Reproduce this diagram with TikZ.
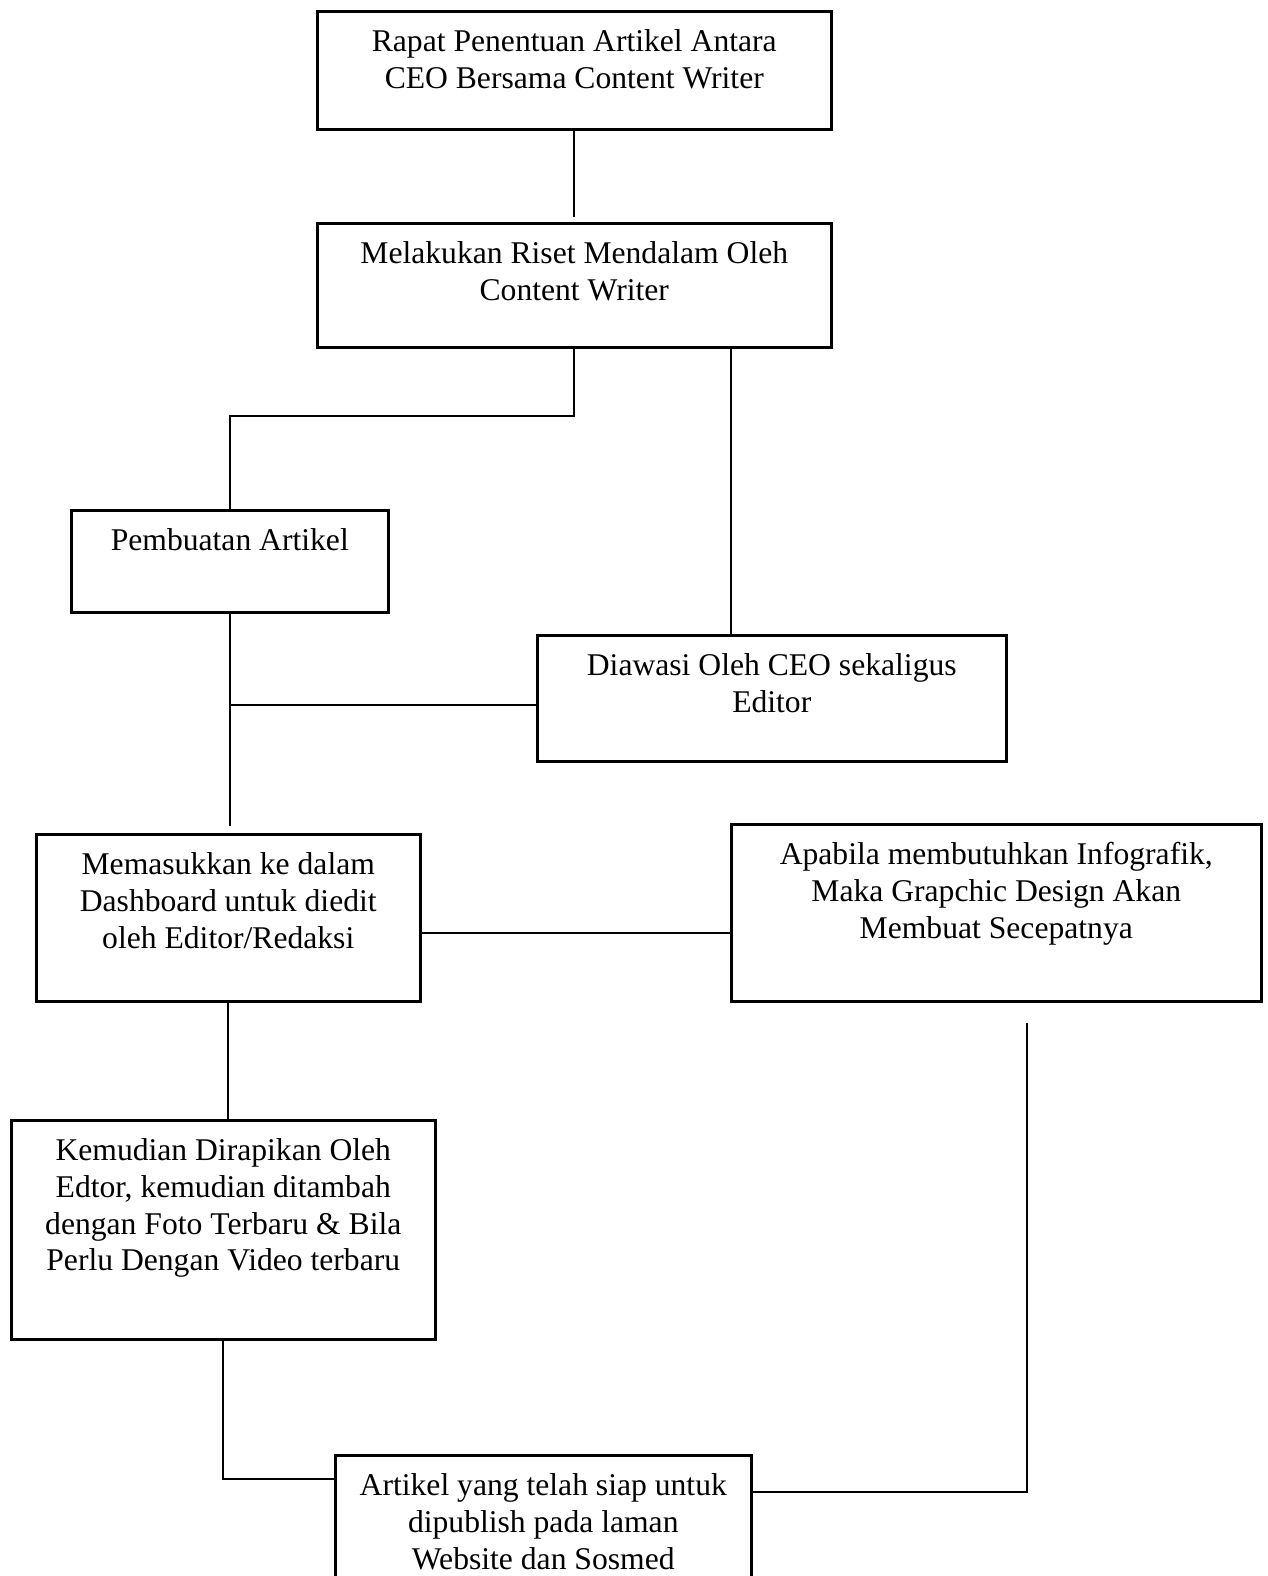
\documentclass[tikz,border=0pt]{standalone}
\usepackage{fontspec}
\setmainfont{Liberation Serif}
\tikzset{
  kotak/.style={draw,line width=1.5pt,anchor=north west,inner sep=0pt},
  isi/.style={anchor=north,align=center,inner sep=0pt,font=\fontsize{18}{21}\selectfont},
  garis/.style={line width=1.1pt}
}
\begin{document}
\begin{tikzpicture}[x=0.02cm,y=-0.02cm]
    \useasboundingbox (0,0) rectangle (1268,1576);
    \clip (0,0) rectangle (1268,1576);
    % kotak
    \node[kotak,minimum width=10.28cm,minimum height=2.36cm] (rapat) at (316,10) {};
    \node[kotak,minimum width=10.28cm,minimum height=2.48cm] (riset) at (316,222) {};
    \node[kotak,minimum width=6.34cm,minimum height=2.04cm] (buat) at (70,509) {};
    \node[kotak,minimum width=9.38cm,minimum height=2.52cm] (awas) at (536,634) {};
    \node[kotak,minimum width=7.68cm,minimum height=3.34cm] (masuk) at (35,833) {};
    \node[kotak,minimum width=10.6cm,minimum height=3.54cm] (apa) at (730,823) {};
    \node[kotak,minimum width=8.48cm,minimum height=4.38cm] (rapi) at (10,1119) {};
    \node[kotak,minimum width=8.32cm,minimum height=3.2cm] (artikel) at (334,1454) {};
    % isi
    \node[isi] (rapatT) at ([yshift=-0.38cm]rapat.north) {Rapat Penentuan Artikel Antara\\CEO Bersama Content Writer};
    \node[isi] (risetT) at ([yshift=-0.38cm]riset.north) {Melakukan Riset Mendalam Oleh\\Content Writer};
    \node[isi] (buatT) at ([yshift=-0.38cm]buat.north) {Pembuatan Artikel};
    \node[isi] (awasT) at ([yshift=-0.38cm]awas.north) {Diawasi Oleh CEO sekaligus\\Editor};
    \node[isi] (masukT) at ([yshift=-0.38cm]masuk.north) {Memasukkan ke dalam\\Dashboard untuk diedit\\oleh Editor/Redaksi};
    \node[isi] (apaT) at ([yshift=-0.38cm]apa.north) {Apabila membutuhkan Infografik,\\Maka Grapchic Design Akan\\Membuat Secepatnya};
    \node[isi] (rapiT) at ([yshift=-0.38cm]rapi.north) {Kemudian Dirapikan Oleh\\Edtor, kemudian ditambah\\dengan Foto Terbaru \& Bila\\Perlu Dengan Video terbaru};
    \node[isi] (artikelT) at ([yshift=-0.38cm]artikel.north) {Artikel yang telah siap untuk\\dipublish pada laman\\Website dan Sosmed};
    % garis
    \draw[garis] (rapat.south) -- ([yshift=0.1cm]riset.north);
    \draw[garis] (riset.south) -- ++(0,67) -| (buat.north);
    \draw[garis] ([xshift=3.9cm]awas.north west) -- ([xshift=3.9cm]awas.north west |- riset.south);
    \draw[garis] (buat.south) -- ([yshift=0.14cm]buat.south |- masuk.north);
    \draw[garis] ([yshift=-0.14cm]awas.west) -- ([yshift=-0.14cm]awas.west -| buat.south);
    \draw[garis] ([yshift=-0.31cm]masuk.east) -- ([yshift=-0.31cm]masuk.east -| apa.west);
    \draw[garis] (masuk.south) -- (masuk.south |- rapi.north);
    \draw[garis] (rapi.south) |- ([yshift=-0.5cm]artikel.north west);
    \coordinate (ujung) at ([xshift=5.94cm,yshift=-0.4cm]apa.south west);
    \draw[garis] (ujung) |- ([yshift=-0.76cm]artikel.north east);
\end{tikzpicture}
\end{document}
